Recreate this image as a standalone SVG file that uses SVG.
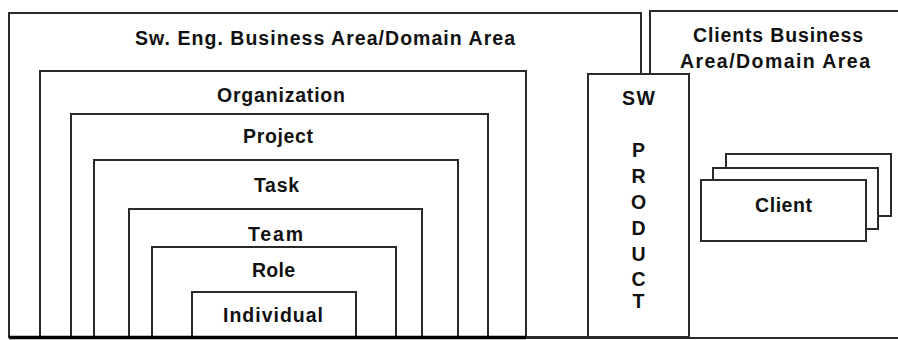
<svg xmlns="http://www.w3.org/2000/svg" width="898" height="340" viewBox="0 0 898 340">
  <style>
    .box { fill: #ffffff; stroke: #2a2a2a; stroke-width: 2; }
    .lbl { font-family: "Liberation Sans", Arial, sans-serif; font-size: 19.5px; font-weight: bold; fill: #111111; text-anchor: middle; }
    .base { stroke: #000000; stroke-width: 3.5; }
    .base-thin { stroke: #2a2a2a; stroke-width: 2; }
  </style>
  <rect width="898" height="340" fill="#ffffff"/>

  <!-- software engineering domain and its nested levels -->
  <g id="sw-eng-area">
    <rect class="box" x="9" y="13" width="632" height="324"/>
    <text class="lbl" x="325" y="45" textLength="380" lengthAdjust="spacing">Sw. Eng. Business Area/Domain Area</text>
  </g>
  <g id="clients-area">
    <rect class="box" x="650" y="11" width="260" height="327"/>
    <text class="lbl" x="778" y="42" textLength="170" lengthAdjust="spacing">Clients Business</text>
    <text class="lbl" x="775" y="68" textLength="190" lengthAdjust="spacing">Area/Domain Area</text>
  </g>
  <g id="organization">
    <rect class="box" x="40" y="71" width="486" height="266"/>
    <text class="lbl" x="281" y="102" textLength="128" lengthAdjust="spacing">Organization</text>
  </g>
  <g id="project">
    <rect class="box" x="71" y="114" width="417" height="223"/>
    <text class="lbl" x="278" y="143" textLength="70" lengthAdjust="spacing">Project</text>
  </g>
  <g id="task">
    <rect class="box" x="94" y="160" width="364" height="177"/>
    <text class="lbl" x="276.5" y="192" textLength="45" lengthAdjust="spacing">Task</text>
  </g>
  <g id="team">
    <rect class="box" x="129" y="209" width="293" height="128"/>
    <text class="lbl" x="275.5" y="241" textLength="55" lengthAdjust="spacing">Team</text>
  </g>
  <g id="role">
    <rect class="box" x="152" y="247" width="244" height="90"/>
    <text class="lbl" x="273.5" y="277" textLength="43" lengthAdjust="spacing">Role</text>
  </g>
  <g id="individual">
    <rect class="box" x="192" y="292" width="164" height="45"/>
    <text class="lbl" x="273" y="322" textLength="100" lengthAdjust="spacing">Individual</text>
  </g>

  <!-- product bridging the two domains -->
  <g id="sw-product">
    <rect class="box" x="588" y="74" width="101" height="263"/>
    <text class="lbl" x="638.5" y="105" textLength="33" lengthAdjust="spacing">SW</text>
    <text class="lbl" x="638.5" y="157">P</text>
    <text class="lbl" x="638.5" y="183">R</text>
    <text class="lbl" x="638.5" y="209">O</text>
    <text class="lbl" x="638.5" y="235">D</text>
    <text class="lbl" x="638.5" y="261">U</text>
    <text class="lbl" x="638.5" y="286">C</text>
    <text class="lbl" x="638.5" y="308">T</text>
  </g>

  <!-- stacked client cards -->
  <g id="client">
    <rect class="box" x="726" y="154" width="165" height="62"/>
    <rect class="box" x="713" y="168" width="165" height="61"/>
    <rect class="box" x="701" y="180" width="165" height="61"/>
    <text class="lbl" x="783.5" y="212" textLength="57" lengthAdjust="spacing">Client</text>
  </g>

  <!-- shared base line -->
  <g id="baseline">
    <line class="base-thin" x1="526" y1="338" x2="898" y2="338"/>
    <line class="base" x1="9" y1="337.5" x2="526" y2="337.5"/>
  </g>
</svg>
